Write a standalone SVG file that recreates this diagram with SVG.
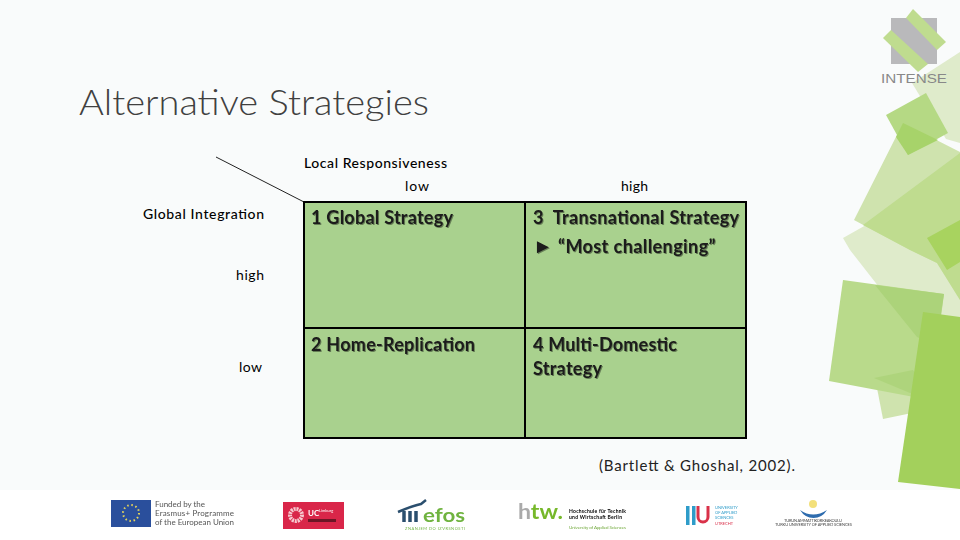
<svg xmlns="http://www.w3.org/2000/svg" width="960" height="540" viewBox="0 0 960 540">
<style>
text{font-family:Lato,"Open Sans","Liberation Sans",sans-serif;fill:#000}
.title{font-size:36px;font-weight:300;fill:#404040}
.lab{font-size:14px}
.cell{fill:#a9d18e;stroke:#000;stroke-width:2}
.ct{font-size:18px;font-weight:700;fill:#1a1a1a;filter:url(#sh)}
.lg{font-size:8px;fill:#555}
.tiny{font-size:4px;fill:#444}
.foot{filter:url(#soft)}
</style>
<defs>
<filter id="sh" x="-5%" y="-20%" width="110%" height="150%"><feDropShadow dx="1" dy="1" stdDeviation="0.7" flood-color="#000" flood-opacity="0.4"/></filter>
<filter id="soft" x="-5%" y="-5%" width="110%" height="110%"><feGaussianBlur stdDeviation="0.3"/></filter>
</defs>
<rect width="960" height="540" fill="#fff"/>
<rect width="960" height="490" fill="#f9fbfb"/>
<g id="decoration">
<polygon points="960,52 912,83 946,139 960,143" fill="#dfebcb"/>
<polygon points="843,238 960,172 960,320 923,312 918,337 850,250" fill="#dfebcb"/>
<polygon points="854,220 903,123 960,152 960,300 937,263 910,250" fill="#cfe3ae"/>
<polygon points="863,225 960,153 960,300 937,263 910,250" fill="#bfdc8f"/>
<polygon points="927,238 960,220 960,262 947,270" fill="#a8d35f"/>
<polygon points="886,115 926,93 948,133 908,155" fill="#b5d984"/>
<polygon points="903,123 938,140 908,155 896,137" fill="#a7d36a"/>
<polygon points="877,388 960,400 960,403 883,419" fill="#cfe3ae"/>
<polygon points="843,280 944,294 930,400 829,381" fill="#b9da8b"/>
<polygon points="874,378 913,370 930,395 910,393" fill="#aed47c"/>
<polygon points="875,285 944,294 936,345 917,337" fill="#acd37a"/>
<polygon points="923,312 960,317 960,489 898,482" fill="#a3d05c"/>
</g>
<g id="logo">
<rect x="891" y="18" width="46" height="46" fill="#b9b9bb"/>
<polygon points="913,9 946,42 937,50 906,18" fill="#bfdc8f"/>
<polygon points="883,38 891,30 928,64 918,72" fill="#bfdc8f"/>
<text x="881" y="83" style="font-size:13px;font-family:'Liberation Sans',sans-serif;fill:#888" textLength="66" lengthAdjust="spacingAndGlyphs">INTENSE</text>
</g>
<text class="title" x="79" y="115" textLength="350" lengthAdjust="spacingAndGlyphs">Alternative Strategies</text>
<g id="connectors">
<line x1="216" y1="157" x2="304" y2="202" stroke="#222" stroke-width="1"/>
</g>
<g id="axis-labels">
<text class="lab" x="304" y="168" textLength="143" style="font-weight:500">Local Responsiveness</text>
<text class="lab" x="405" y="191" textLength="24">low</text>
<text class="lab" x="621" y="191" textLength="27">high</text>
<text class="lab" x="143" y="219" textLength="121" style="font-weight:500">Global Integration</text>
<text class="lab" x="236" y="280" textLength="28">high</text>
<text class="lab" x="239" y="372" textLength="23">low</text>
</g>
<g id="cell1"><rect class="cell" x="304" y="202" width="221" height="126"/><text class="ct" x="311" y="224" textLength="142">1 Global Strategy</text></g>
<g id="cell3"><rect class="cell" x="525" y="202" width="221" height="126"/><text class="ct" x="533" y="224" textLength="206" xml:space="preserve">3  Transnational Strategy</text><text class="ct" y="253"><tspan x="533" style="font-size:20px;font-family:'Liberation Sans',sans-serif">►</tspan> <tspan x="558" style="letter-spacing:0.42px">“Most challenging”</tspan></text></g>
<g id="cell2"><rect class="cell" x="304" y="328" width="221" height="110"/><text class="ct" x="311" y="351" textLength="164">2 Home-Replication</text></g>
<g id="cell4"><rect class="cell" x="525" y="328" width="221" height="110"/><text class="ct" x="533" y="351" textLength="144">4 Multi-Domestic</text><text class="ct" x="533" y="375" textLength="69">Strategy</text></g>
<text id="citation" x="599" y="471" style="font-size:15px;fill:#222" textLength="196">(Bartlett &amp; Ghoshal, 2002).</text>
<g id="logo-eu" class="foot">
<rect x="111" y="500" width="40" height="27" fill="#2a4f9c"/>
<circle cx="131" cy="513" r="8" fill="none" stroke="#e8d65a" stroke-width="2" stroke-dasharray="1.5 2.7"/>
<text class="lg" x="155" y="507" textLength="50">Funded by the</text>
<text class="lg" x="155" y="516" textLength="79">Erasmus+ Programme</text>
<text class="lg" x="155" y="525" textLength="79">of the European Union</text>
</g>
<g id="logo-uc" class="foot">
<rect x="283" y="502" width="61" height="27" fill="#d9274a"/>
<circle cx="296" cy="515" r="6" fill="none" stroke="#f6c9cf" stroke-width="4" stroke-dasharray="2 0.8"/>
<text x="308" y="516" style="font-size:8px;font-weight:700;fill:#fff">UC</text><text x="319" y="512" style="font-size:4px;fill:#fff">Limburg</text>
<rect x="308" y="519" width="28" height="3" fill="#6d1626"/>
</g>
<g id="logo-efos" class="foot">
<path d="M398,512q14,-6 23,-8l5,-4" fill="none" stroke="#2c4f6e" stroke-width="2.5"/>
<path d="M404,511v11M410,511v11M416,511v11" stroke="#2c4f6e" stroke-width="3.500"/>
<text x="423" y="522" style="font-size:19px;font-weight:700;fill:#6fb33f" textLength="42" lengthAdjust="spacingAndGlyphs">efos</text>
<text x="405" y="530" style="font-size:4px;fill:#6fb33f" textLength="60">ZNANJEM DO IZVRSNOSTI</text>
</g>
<g id="logo-htw" class="foot">
<text x="518" y="519" style="font-size:20px;font-weight:700" textLength="45" lengthAdjust="spacingAndGlyphs"><tspan style="fill:#aaa">h</tspan><tspan style="fill:#76b82a">tw.</tspan></text>
<text x="569" y="513" style="font-size:5px;font-weight:700" textLength="57">Hochschule für Technik</text>
<text x="569" y="519" style="font-size:5px;font-weight:700" textLength="53">und Wirtschaft Berlin</text>
<text x="569" y="529" style="font-size:4.5px;fill:#6fa83a" textLength="57">University of Applied Sciences</text>
</g>
<g id="logo-hu" class="foot">
<rect x="686" y="506" width="3.500" height="19" fill="#2e9cc9"/><rect x="692" y="506" width="3.500" height="19" fill="#2e9cc9"/>
<path d="M698,506v11a5,5 0 0 0 10,0v-11" fill="none" stroke="#d9304a" stroke-width="3"/>
<text x="715" y="509" class="tiny" style="fill:#2e9cc9">UNIVERSITY</text>
<text x="715" y="514" class="tiny" style="fill:#2e9cc9">OF APPLIED</text>
<text x="715" y="519" class="tiny" style="fill:#2e9cc9">SCIENCES</text>
<text x="715" y="525" class="tiny" style="fill:#d9304a">UTRECHT</text>
</g>
<g id="logo-turku" class="foot">
<circle cx="813" cy="504" r="4" fill="#f3e07a"/>
<path d="M800,510q13,9 27,0q-5,8 -13.500,8t-13.500,-8z" fill="#2d6cae"/>
<text x="784" y="522" class="tiny" textLength="58">TURUN AMMATTIKORKEAKOULU</text>
<text x="775" y="526" class="tiny" textLength="77">TURKU UNIVERSITY OF APPLIED SCIENCES</text>
</g>
</svg>
